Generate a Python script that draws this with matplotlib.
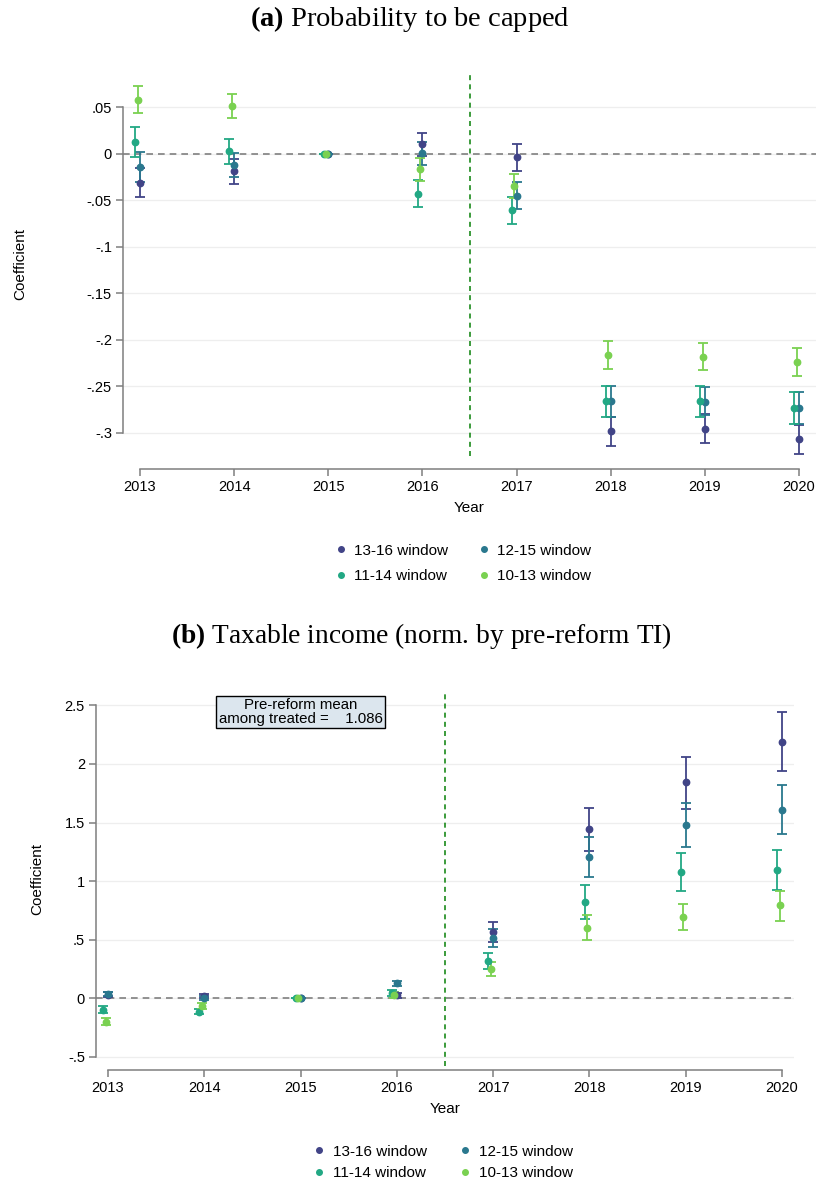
import numpy as np
import matplotlib
matplotlib.use('Agg')
from matplotlib import pyplot
from matplotlib.lines import Line2D


# event-study estimates: coefficient, lower and upper 95% bounds
years  = [2013, 2014, 2015, 2016, 2017, 2018, 2019, 2020]
labels = ['13-16 window', '12-15 window', '11-14 window', '10-13 window']
colors = ['#414487', '#2a788e', '#22a884', '#7ad151']
shifts = [0.0, 0.0, -0.05, -0.025]

#(a) probability to be capped
capA_1316 = [-0.031, -0.0186, 0.0, 0.0104, -0.0032, -0.2982, -0.2957, -0.3065]
loA_1316  = [-0.0462, -0.032, 0.0, -0.002, -0.018, -0.314, -0.3115, -0.323]
hiA_1316  = [-0.0154, -0.0057, 0.0, 0.0229, 0.0108, -0.2832, -0.280, -0.2914]

capA_1215 = [-0.0136, -0.0118, 0.0, 0.001, -0.0448, -0.266, -0.2674, -0.2738]
loA_1215  = [-0.0298, -0.0247, 0.0, -0.0115, -0.0595, -0.2828, -0.2806, -0.291]
hiA_1215  = [0.0018, 0.0014, 0.0, 0.0133, -0.030, -0.2495, -0.2513, -0.2566]

capA_1114 = [0.0133, 0.0032, 0.0, -0.0427, -0.0606, -0.266, -0.266, -0.2738]
loA_1114  = [-0.0032, -0.0104, 0.0, -0.057, -0.075, -0.2828, -0.2828, -0.291]
hiA_1114  = [0.0294, 0.0165, 0.0, -0.028, -0.0459, -0.2495, -0.2495, -0.2566]

capA_1013 = [0.0584, 0.0516, 0.0, -0.0165, -0.0348, -0.2165, -0.2183, -0.2244]
loA_1013  = [0.0437, 0.039, 0.0, -0.0287, -0.048, -0.2315, -0.233, -0.2394]
hiA_1013  = [0.073, 0.0645, 0.0, -0.0047, -0.0215, -0.2014, -0.2032, -0.209]

#(b) taxable income, normalised by pre-reform TI
tiB_1316 = [0.03, 0.017, 0.0, 0.025, 0.564, 1.442, 1.843, 2.191]
loB_1316 = [0.01, -0.003, 0.0, 0.005, 0.48, 1.256, 1.618, 1.937]
hiB_1316 = [0.05, 0.037, 0.0, 0.045, 0.647, 1.627, 2.063, 2.444]

tiB_1215 = [0.032, 0.005, 0.0, 0.125, 0.516, 1.205, 1.481, 1.609]
loB_1215 = [0.015, -0.012, 0.0, 0.10, 0.44, 1.034, 1.293, 1.404]
hiB_1215 = [0.05, 0.022, 0.0, 0.15, 0.59, 1.376, 1.667, 1.818]

tiB_1114 = [-0.10, -0.117, 0.0, 0.046, 0.316, 0.82, 1.077, 1.091]
loB_1114 = [-0.13, -0.14, 0.0, 0.02, 0.245, 0.678, 0.912, 0.920]
hiB_1114 = [-0.07, -0.095, 0.0, 0.072, 0.387, 0.966, 1.239, 1.265]

tiB_1013 = [-0.20, -0.068, 0.0, 0.028, 0.248, 0.601, 0.695, 0.792]
loB_1013 = [-0.23, -0.095, 0.0, 0.005, 0.188, 0.493, 0.581, 0.661]
hiB_1013 = [-0.17, -0.04, 0.0, 0.05, 0.305, 0.707, 0.806, 0.915]

yticksA = [0.05, 0, -0.05, -0.1, -0.15, -0.2, -0.25, -0.3]
ylabsA  = ['.05', '0', '-.05', '-.1', '-.15', '-.2', '-.25', '-.3']
yticksB = [2.5, 2, 1.5, 1, 0.5, 0, -0.5]
ylabsB  = ['2.5', '2', '1.5', '1', '.5', '0', '-.5']
premean = 1.086


pyplot.rcParams['font.family'] = 'Liberation Sans'
pyplot.rcParams['mathtext.fontset'] = 'custom'
pyplot.rcParams['mathtext.rm'] = 'Liberation Serif'
pyplot.rcParams['mathtext.bf'] = 'Liberation Serif:bold'

spine_c = '#7f7f7f'

def panel(ax, est, xlim, ylim, yticks, ylabs, xoff, ylab_x):
	x = np.array(years, dtype=float)
	for (c, lo, hi), col, dx in zip(est, colors, shifts):
		c, lo, hi = map(np.asarray, (c, lo, hi))
		ax.errorbar(x + dx, c, yerr=[c - lo, hi - c], fmt='o', color=col,
		            ms=4.6, lw=1.3, capsize=3.8, capthick=1.3, clip_on=False, zorder=3)
	ax.axhline(0, color='#808080', ls=(0, (4, 3)), lw=1.2, zorder=2)
	ax.axvline(2016.5, color='#1a8a1a', ls=(0, (3, 2.5)), lw=1.2, zorder=2)
	ax.set_xlim(*xlim)
	ax.set_ylim(*ylim)
	ax.set_xticks(years)
	ax.set_yticks(yticks)
	ax.set_yticklabels(ylabs)
	ax.grid(axis='y', color='#eeeeee', lw=0.9, zorder=0)
	ax.set_axisbelow(True)
	for s in ['top', 'right']:
		ax.spines[s].set_visible(False)
	ax.spines['left'].set_bounds(min(yticks), max(yticks))
	ax.spines['bottom'].set_bounds(years[0], years[-1])
	ax.spines['bottom'].set_position(('outward', xoff))
	for s in ['left', 'bottom']:
		ax.spines[s].set_color(spine_c)
		ax.spines[s].set_linewidth(1.1)
	ax.tick_params(axis='both', color=spine_c, length=5, width=1.1, labelsize=10.5, pad=3)
	ax.set_xlabel('Year', fontsize=11, labelpad=5)
	ax.set_ylabel('Coefficient', fontsize=11)
	ax.yaxis.set_label_coords(ylab_x, 0.5)


fig = pyplot.figure(figsize=(8.19, 11.85), dpi=100)

axA = fig.add_axes([123/819, 1-456/1185, 693/819, 383/1185])
panel(axA, [(capA_1316, loA_1316, hiA_1316), (capA_1215, loA_1215, hiA_1215),
            (capA_1114, loA_1114, hiA_1114), (capA_1013, loA_1013, hiA_1013)],
      (2012.82, 2020.18), (-0.325, 0.087), yticksA, ylabsA, 9, -0.138)

axB = fig.add_axes([96/819, 1-1066/1185, 698/819, 374/1185])
panel(axB, [(tiB_1316, loB_1316, hiB_1316), (tiB_1215, loB_1215, hiB_1215),
            (tiB_1114, loB_1114, hiB_1114), (tiB_1013, loB_1013, hiB_1013)],
      (2012.875, 2020.125), (-0.58, 2.615), yticksB, ylabsB, 3, -0.074)
axB.text(2015, 2.445, 'Pre-reform mean\namong treated =    %.3f' % premean,
         ha='center', va='center', fontsize=10.8, linespacing=1.0,
         bbox=dict(boxstyle='square,pad=0.15', fc='#dce6ee', ec='black', lw=1.0))

#titles
fig.text(0.5, 1-19/1185, r'$\mathbf{(a)}$ Probability to be capped', ha='center', va='center',
         family='Liberation Serif', fontsize=20.5)
fig.text(421/819, 1-636/1185, r'$\mathbf{(b)}$ Taxable income (norm. by pre-reform TI)', ha='center',
         va='center', family='Liberation Serif', fontsize=19.8)

#legends
handles = [Line2D([], [], ls='', marker='o', ms=4, color=c) for c in colors]
order = [0, 2, 1, 3]
for cx, cy, sp, cs in [(463/819, 1-563.5/1185, 0.75, 1.9), (443/819, 1-1162.5/1185, 0.5, 2.1)]:
	fig.legend([handles[i] for i in order], [labels[i] for i in order], ncol=2,
	           loc='center', bbox_to_anchor=(cx, cy),
	           frameon=False, fontsize=11, handlelength=0.8, handletextpad=0.5,
	           columnspacing=cs, labelspacing=sp)

fig.savefig('out.png', dpi=100)
